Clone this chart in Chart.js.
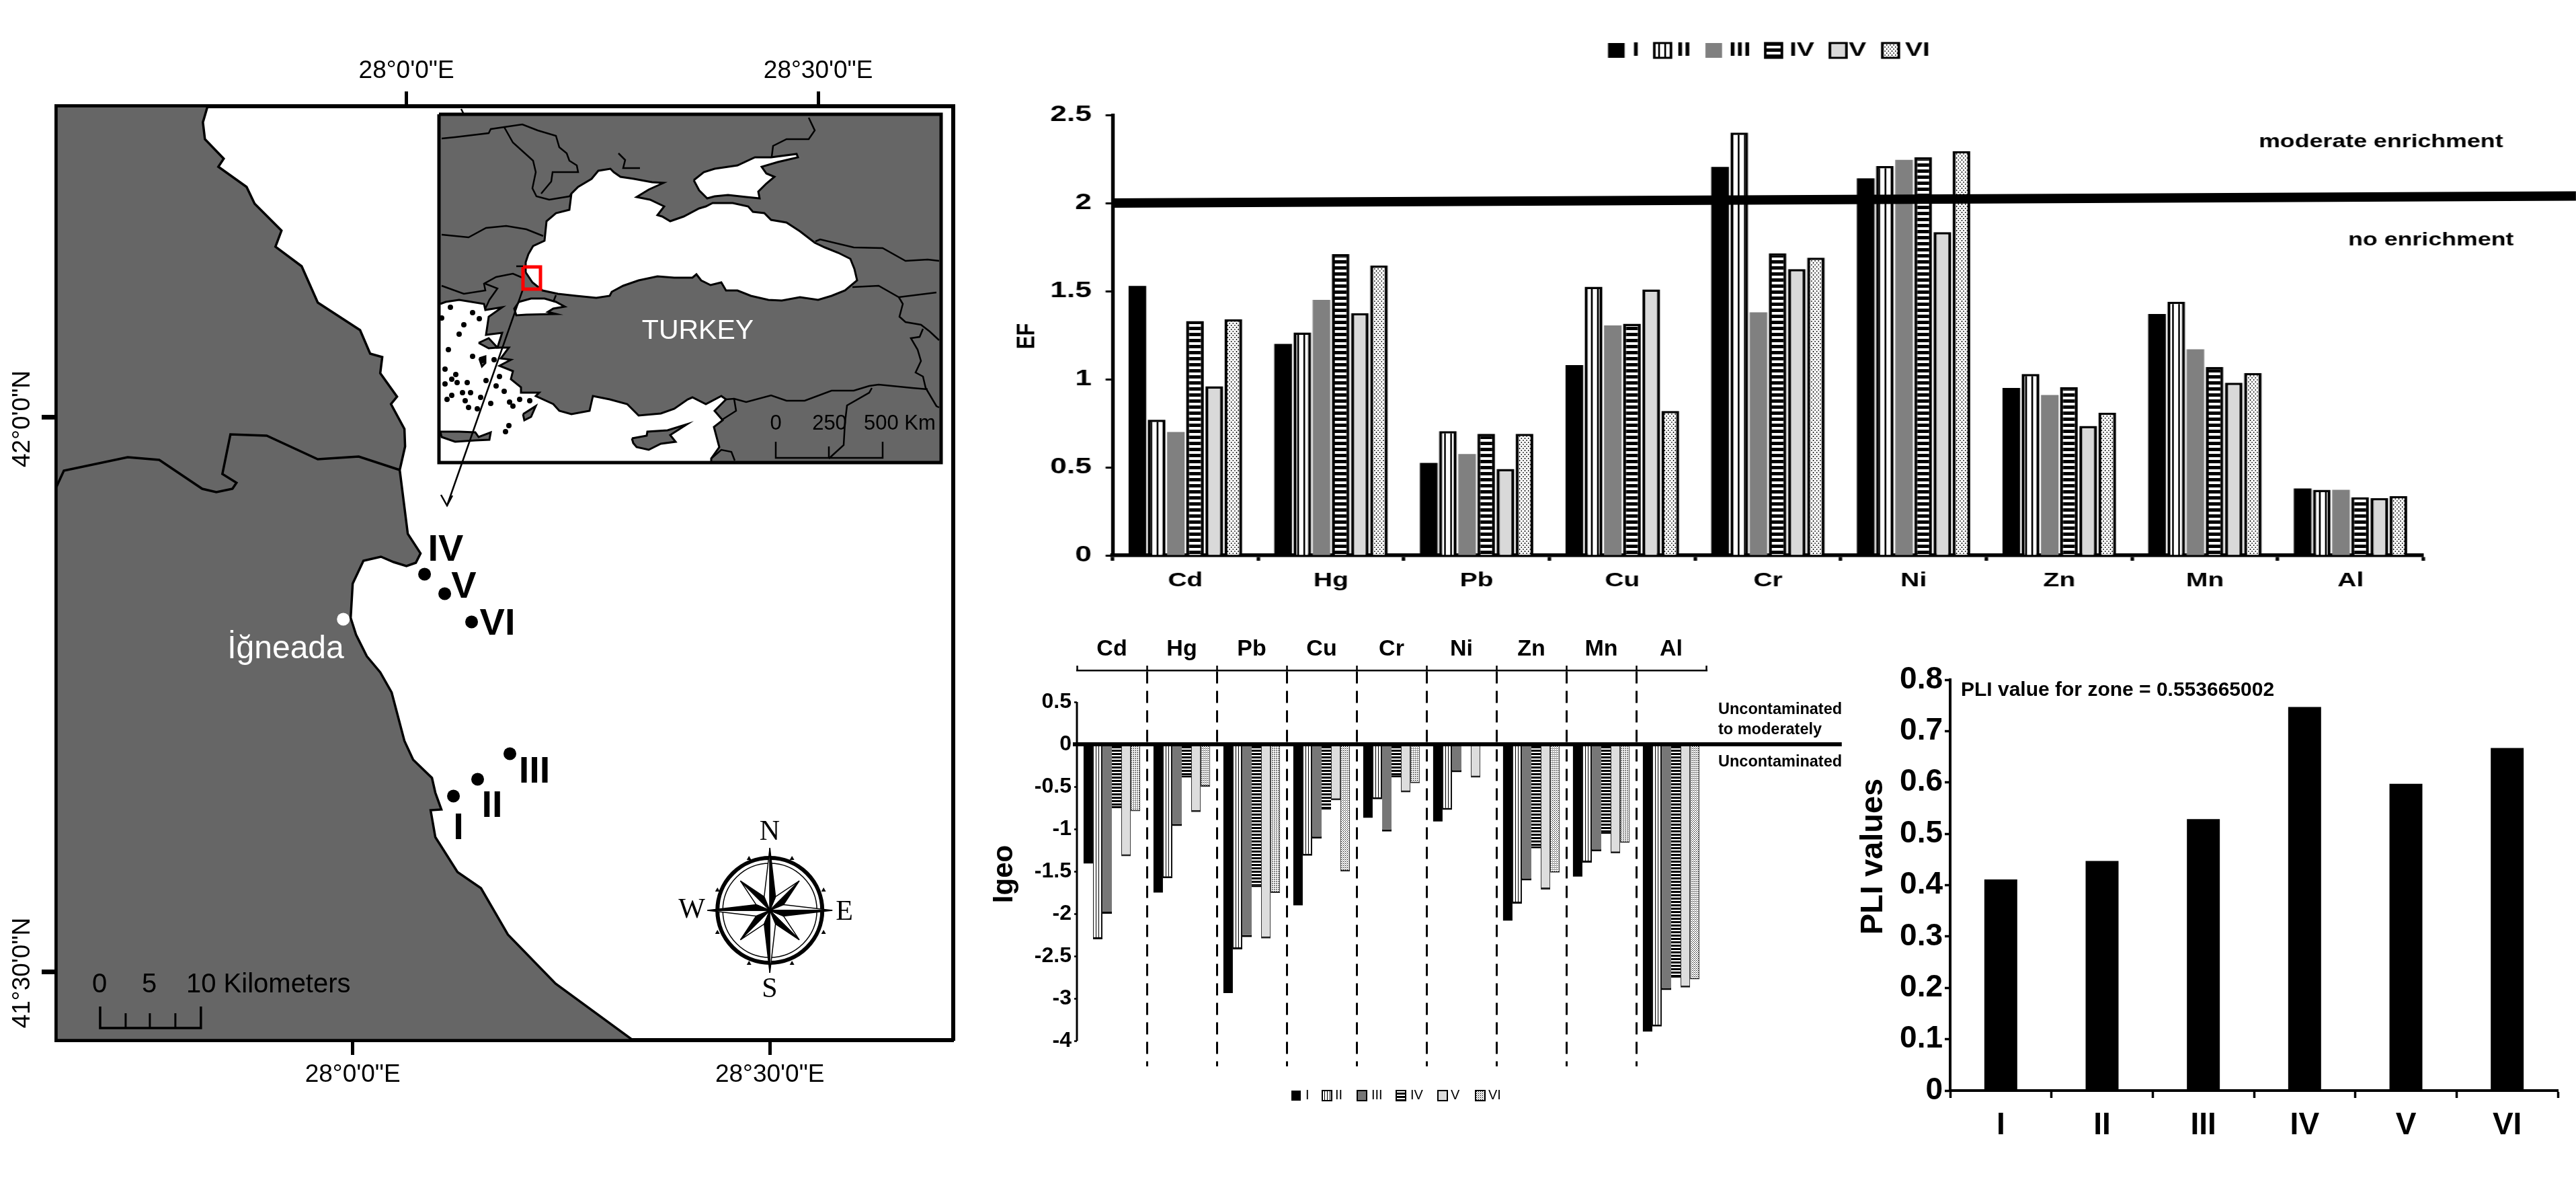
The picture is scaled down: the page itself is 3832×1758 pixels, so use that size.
<!DOCTYPE html>
<html lang="en">
<head>
<meta charset="UTF-8">
<title>Igneada sediment indices</title>
<script src="https://cdn.jsdelivr.net/npm/chart.js@4"></script>
<style>
    body { margin: 0; background: #fff; overflow: hidden; width: 3832px; height: 1758px; position: relative; }
    canvas { position: absolute; top: 0; }
</style>
</head>
<body>
<script>
// ---- chart data ----
const metals = ['Cd', 'Hg', 'Pb', 'Cu', 'Cr', 'Ni', 'Zn', 'Mn', 'Al'];
const stations = ['I', 'II', 'III', 'IV', 'V', 'VI'];

const efI   = [1.53, 1.20, 0.525, 1.08, 2.205, 2.14, 0.95, 1.37, 0.38];
const efII  = [0.77, 1.265, 0.705, 1.525, 2.40, 2.21, 1.03, 1.44, 0.372];
const efIII = [0.70, 1.45, 0.575, 1.305, 1.38, 2.245, 0.91, 1.17, 0.372];
const efIV  = [1.33, 1.71, 0.69, 1.315, 1.715, 2.26, 0.955, 1.07, 0.33];
const efV   = [0.96, 1.375, 0.49, 1.51, 1.625, 1.835, 0.735, 0.98, 0.325];
const efVI  = [1.34, 1.645, 0.69, 0.82, 1.69, 2.295, 0.81, 1.035, 0.337];
const efLimit = [{x: 0, y: 2.0}, {x: 10.05, y: 2.04}];

const igeoI   = [-1.405, -1.75, -2.935, -1.90, -0.866, -0.91, -2.08, -1.56, -3.39];
const igeoII  = [-2.30, -1.58, -2.42, -1.315, -0.648, -0.773, -1.88, -1.397, -3.33];
const igeoIII = [-2.00, -0.964, -2.275, -1.113, -1.03, -0.328, -1.607, -1.263, -2.90];
const igeoIV  = [-0.753, -0.393, -1.685, -0.77, -0.39, 0, -1.227, -1.057, -2.753];
const igeoV   = [-1.32, -0.80, -2.29, -0.66, -0.567, -0.393, -1.713, -1.287, -2.87];
const igeoVI  = [-0.79, -0.50, -1.753, -1.50, -0.457, -0.02, -1.514, -1.162, -2.773];
const igeoTicks = [0.5, 0, -0.5, -1, -1.5, -2, -2.5, -3, -3.5];
const igeoTickLabels = ['0.5', '0', '-0.5', '-1', '-1.5', '-2', '-2.5', '-3', '-4'];
const igeoZero = [{x: -0.058, y: 0}, {x: 10.94, y: 0}];
const igeoAxis = [{x: 0, y: 0.5}, {x: 0, y: -3.5}];

const pliValues = [0.411, 0.447, 0.5285, 0.747, 0.5975, 0.667];

// ---- map outlines, digitised in figure coordinates ----
const P = a => a.map(([x, y]) => ({x, y}));
const landShape = P([[308,158],[301,182],[304,207],[332,236],[324,248],[366,278],[378,303],[418,343],[409,367],[448,396],[472,450],[535,491],[550,526],[568,531],[565,555],[590,590],[581,601],[601,638],[602,664],[594,699],[606,794],[625,823],[618,837],[604,842],[585,836],[566,828],[540,834],[524,868],[521,919],[529,944],[545,976],[565,1000],[582,1030],[601,1102],[614,1130],[642,1157],[647,1179],[656,1204],[640,1205],[647,1245],[680,1297],[715,1321],[755,1390],[826,1463],[941,1547],[83,1547],[83,158],[308,158]]);
const landBorder = P([[594,699],[533,679],[472,683],[396,648],[342,646],[330,705],[351,718],[345,727],[321,732],[300,727],[236,684],[189,680],[94,700],[83,724]]);
const sitePoints = P([[674,1184],[710,1159],[758,1121],[631,854],[661,883],[701,925]]);
const townPoint = P([[510,921]]);
const kmBar = P([[148,1497],[148,1529],[298,1529],[298,1497]]);
const kmTicks = [P([[186,1529],[186,1507]]), P([[222,1529],[222,1507]]), P([[260,1529],[260,1507]])];
const bottomTicks = [524, 1145], bottomLabels = ['28°0\'0"E', '28°30\'0"E'];
const topTicks = [604, 1217], topLabels = ['28°0\'0"E', '28°30\'0"E'];
const leftTicks = [620, 1445];

const compassCentre = [1145, 1354];
const compassMarks = P([[1114,1277],[1178,1277],[1067,1324],[1225,1324],[1067,1387],[1225,1387],[1114,1433],[1178,1433]]);

const insetFrame = P([[653,170],[1400,170],[1400,688],[653,688],[653,170]]);
const blackSea = P([[782,405],[792,420],[807,432],[830,437],[857,440],[887,443],[907,440],[910,434],[927,425],[950,417],[978,411],[1003,413],[1030,413],[1036,408],[1043,417],[1057,424],[1073,420],[1080,432],[1097,432],[1117,440],[1143,446],[1163,447],[1190,442],[1217,446],[1237,440],[1257,432],[1275,417],[1271,400],[1265,385],[1247,376],[1227,368],[1212,361],[1190,344],[1170,331],[1147,327],[1137,317],[1120,315],[1113,307],[1090,302],[1060,302],[1050,307],[1040,310],[1017,322],[997,329],[985,322],[978,320],[988,307],[967,297],[947,293],[965,282],[987,272],[970,271],[943,266],[923,263],[913,256],[908,251],[890,254],[880,266],[860,278],[850,288],[847,312],[827,317],[813,329],[810,358],[793,366],[786,378],[782,390],[782,405]]);
const azovSea = P([[1032,268],[1047,256],[1063,251],[1097,246],[1123,234],[1147,234],[1185,229],[1187,234],[1157,241],[1133,248],[1140,258],[1152,263],[1140,273],[1128,285],[1130,295],[1110,293],[1083,290],[1063,292],[1052,295],[1040,283],[1032,268]]);
const medSea = P([[655,452],[663,449],[683,446],[720,452],[722,461],[747,457],[727,471],[723,498],[747,495],[740,517],[757,517],[745,533],[760,535],[743,544],[763,552],[760,564],[775,576],[775,584],[802,584],[797,589],[823,601],[832,611],[850,616],[877,611],[882,589],[907,594],[933,601],[950,618],[983,615],[1003,608],[1023,594],[1030,591],[1050,601],[1073,589],[1080,594],[1063,611],[1075,625],[1062,635],[1070,665],[1058,682],[1058,688],[653,688],[653,452],[655,452]]);
const marmara = P([[772,449],[790,444],[810,444],[827,449],[840,456],[823,459],[815,464],[827,467],[783,468],[768,469],[765,459],[772,449]]);
const crete = P([[655,642],[683,642],[707,643],[712,650],[730,643],[728,654],[707,655],[677,657],[657,650],[655,642]]);
const cyprus = P([[940,652],[962,648],[963,642],[993,640],[1022,631],[997,647],[1005,657],[983,660],[965,669],[947,665],[942,659],[940,652]]);
const largeIslands = [
    P([[712,510],[727,503],[740,517],[727,518],[712,510]]),
    P([[778,616],[797,604],[790,620],[780,625],[778,616]]),
    P([[713,533],[722,530],[722,540],[717,545],[713,533]])
];
const islands = P([[670,457],[703,465],[713,474],[690,483],[683,497],[667,520],[703,530],[718,536],[735,535],[662,549],[678,557],[672,564],[662,571],[680,569],[695,569],[688,584],[700,584],[672,588],[665,594],[692,596],[697,606],[710,608],[730,600],[738,574],[750,582],[763,604],[758,598],[715,591],[743,560],[723,566],[757,633],[752,642],[773,594],[788,596],[657,473]]);
const insetBorders = [
    P([[657,206],[677,204],[727,198],[730,192],[750,189],[777,185],[800,194],[827,202],[832,219],[843,228],[847,239],[858,246],[860,256],[822,256],[820,270],[805,288]]),
    P([[750,189],[763,212],[793,239],[797,256],[792,280],[798,292],[817,297],[847,292],[850,288]]),
    P([[657,349],[697,353],[723,339],[753,336],[783,341],[808,351]]),
    P([[657,425],[690,437],[722,432],[720,422],[738,412],[763,407],[777,413]]),
    P([[722,422],[740,429],[728,446],[722,459]]),
    P([[768,396],[778,396]]),
    P([[827,439],[823,449]]),
    P([[920,228],[930,238],[927,250],[952,250]]),
    P([[1203,175],[1212,194],[1203,207],[1170,207],[1150,217],[1148,233]]),
    P([[1213,359],[1220,356],[1270,368],[1313,369],[1347,388],[1380,386],[1397,388]]),
    P([[1268,427],[1307,425],[1337,442],[1393,435]]),
    P([[1337,442],[1343,452],[1338,471],[1347,479],[1370,483],[1383,493],[1397,506]]),
    P([[1373,489],[1368,501],[1355,503],[1365,520],[1370,537],[1362,554],[1373,560],[1377,577],[1393,604],[1397,606]]),
    P([[1080,594],[1092,593],[1110,598],[1147,588],[1170,596],[1197,596],[1237,581],[1270,581],[1293,574],[1307,572],[1357,577],[1380,579]]),
    P([[1297,577],[1293,584],[1260,603],[1257,628],[1255,662],[1233,682]]),
    P([[1092,593],[1095,611],[1073,625]]),
    P([[1058,682],[1073,669],[1088,672],[1093,685]])
];
const redBox = P([[778,397],[804,397],[804,430],[778,430],[778,397]]);
const insetArrow = P([[779,427],[665,752]]);
const insetArrowHead = P([[656,736],[665,752],[673,737]]);
const insetStub = P([[686,162],[690,170]]);
const insetKm = P([[1154,657],[1154,681],[1313,681],[1313,657]]);
const insetKmTick = P([[1233,681],[1233,664]]);

// ---- shared helpers ----
const W = 3832, H = 1758;
const SANS = '"Liberation Sans", Arial, sans-serif';
const SERIF = '"Liberation Serif", "Times New Roman", serif';
Chart.defaults.font.family = SANS;
Chart.defaults.color = '#000';
Chart.defaults.animation = false;

function addCanvas(left, width, stretch) {
    const c = document.createElement('canvas');
    c.width = width; c.height = H;
    c.style.left = left + 'px';
    if (stretch) { c.style.transformOrigin = '0 0'; c.style.transform = 'scaleX(' + stretch + ')'; }
    document.body.appendChild(c);
    return c;
}
function pattern(w, h, draw) {
    const c = document.createElement('canvas');
    c.width = w; c.height = h;
    const g = c.getContext('2d');
    g.fillStyle = '#fff'; g.fillRect(0, 0, w, h);
    g.fillStyle = '#000';
    draw(g);
    return g.createPattern(c, 'repeat');
}
const fixSize = n => s => { if (s.isHorizontal()) s.height = n; else s.width = n; };
const plotPadding = (cw, l, t, r, b, yw, th, bh, rw = 0) =>
    ({left: l - yw, top: t - th, right: cw - r - rw, bottom: H - b - bh});

// annotations and hand placed legends, given in figure coordinates
function annotate(items, swatches, toX = x => x) {
    return {
        id: 'annotate',
        afterDraw(chart) {
            const ctx = chart.ctx;
            (swatches || []).forEach(s => {
                const ds = chart.data.datasets[s.ds];
                ctx.fillStyle = ds.backgroundColor;
                ctx.fillRect(toX(s.x), s.y, s.w, s.h);
                if (s.line) { ctx.strokeStyle = '#000'; ctx.lineWidth = s.line; ctx.strokeRect(toX(s.x), s.y, s.w, s.h); }
            });
            items.forEach(i => {
                ctx.save();
                ctx.translate(toX(i.x), i.y);
                if (i.rot) ctx.rotate(i.rot);
                ctx.font = i.font;
                ctx.fillStyle = i.color || '#000';
                ctx.textAlign = i.align || 'center';
                ctx.textBaseline = 'middle';
                ctx.fillText(i.t, 0, 0);
                ctx.restore();
            });
        }
    };
}
const lineSet = (data, color, width, extra) => Object.assign({
    type: 'scatter', data, showLine: true, borderColor: color, borderWidth: width,
    pointRadius: 0, tension: 0, fill: false
}, extra);
const shape = (data, color, lineWidth = 3) => lineSet(data, '#000', lineWidth, {fill: 'shape', backgroundColor: color});
// first listed is painted first
const inOrder = list => list.map((d, i) => Object.assign(d, {order: -i}));
// bars get fewer slots when a dataset sits on a second x axis, so reference lines go on their own layer
function overlay(left, width, stretch, padding, xRange, yRange, sets) {
    return new Chart(addCanvas(left, width, stretch), {
        type: 'scatter',
        data: {datasets: inOrder(sets)},
        options: {
            responsive: false,
            layout: {padding},
            plugins: {legend: {display: false}, tooltip: {enabled: false}},
            scales: {
                x: {type: 'linear', display: false, min: xRange[0], max: xRange[1]},
                y: {type: 'linear', display: false, min: yRange[0], max: yRange[1]}
            }
        }
    });
}

// ---- map ----
function compassSets() {
    const [cx, cy] = compassCentre;
    const at = (deg, r) => ({x: cx + r * Math.sin(deg * Math.PI / 180), y: cy - r * Math.cos(deg * Math.PI / 180)});
    const sets = [];
    [[45, 62], [0, 93]].forEach(([start, r]) => {
        for (let a = start; a < start + 360; a += 90) {
            const c = {x: cx, y: cy};
            sets.push(shape([c, at(a, r), at(a - 22.5, 22), c], '#fff', 1.5));
            sets.push(shape([c, at(a, r), at(a + 22.5, 22), c], '#000', 1.5));
        }
    });
    return sets;
}
const mapLabels = [
    {t: 'IV', x: 663, y: 819, font: 'bold 56px ' + SANS},
    {t: 'V', x: 690, y: 874, font: 'bold 56px ' + SANS},
    {t: 'VI', x: 740, y: 929, font: 'bold 56px ' + SANS},
    {t: 'III', x: 795, y: 1149, font: 'bold 56px ' + SANS},
    {t: 'II', x: 732, y: 1200, font: 'bold 56px ' + SANS},
    {t: 'I', x: 682, y: 1233, font: 'bold 56px ' + SANS},
    {t: 'İğneada', x: 425, y: 966, font: '48px ' + SANS, color: '#fff'},
    {t: '42°0\'0"N', x: 34, y: 623, font: '37px ' + SANS, rot: -Math.PI / 2},
    {t: '41°30\'0"N', x: 34, y: 1447, font: '37px ' + SANS, rot: -Math.PI / 2},
    {t: '0', x: 148, y: 1465, font: '40px ' + SANS},
    {t: '5', x: 222, y: 1465, font: '40px ' + SANS},
    {t: '10 Kilometers', x: 277, y: 1465, font: '40px ' + SANS, align: 'left'},
    {t: 'N', x: 1145, y: 1238, font: '42px ' + SERIF},
    {t: 'S', x: 1145, y: 1472, font: '42px ' + SERIF},
    {t: 'W', x: 1029, y: 1354, font: '42px ' + SERIF},
    {t: 'E', x: 1256, y: 1357, font: '42px ' + SERIF}
];
const coordAxis = (ticks, labels, position) => ({
    type: 'linear', position, min: 83, max: 1418,
    afterBuildTicks: s => { s.ticks = ticks.map(value => ({value})); },
    afterFit: fixSize(100),
    grid: {drawOnChartArea: false, tickLength: 22, tickWidth: 5, tickColor: '#000'},
    border: {display: true, color: '#000', width: 6},
    ticks: {autoSkip: false, maxRotation: 0, padding: 8, font: {size: 37}, callback: v => labels[ticks.indexOf(v)]}
});
new Chart(addCanvas(0, W), {
    type: 'scatter',
    data: {datasets: inOrder([
        shape(landShape, '#666666', 3.5),
        lineSet(landBorder, '#000', 3.5),
        lineSet(kmBar, '#000', 3.5),
        ...kmTicks.map(t => lineSet(t, '#000', 3)),
        {data: sitePoints, pointRadius: 9.5, backgroundColor: '#000', borderWidth: 0},
        {data: townPoint, pointRadius: 9.5, backgroundColor: '#fff', borderWidth: 0},
        {data: [{x: compassCentre[0], y: compassCentre[1]}], pointRadius: 78, backgroundColor: 'transparent', borderColor: '#000', borderWidth: 6},
        {data: [{x: compassCentre[0], y: compassCentre[1]}], pointRadius: 70, backgroundColor: 'transparent', borderColor: '#000', borderWidth: 1.5},
        {data: compassMarks, pointStyle: 'triangle', pointRadius: 4, backgroundColor: '#000', borderWidth: 0},
        ...compassSets()
    ])},
    options: {
        responsive: false,
        layout: {padding: plotPadding(W, 83, 158, 1418, 1547, 30, 100, 100, 1)},
        plugins: {legend: {display: false}, tooltip: {enabled: false}},
        scales: {
            x: coordAxis(bottomTicks, bottomLabels, 'bottom'),
            xTop: coordAxis(topTicks, topLabels, 'top'),
            y: {
                type: 'linear', position: 'left', reverse: true, min: 158, max: 1547,
                afterBuildTicks: s => { s.ticks = leftTicks.map(value => ({value})); },
                afterFit: fixSize(30),
                grid: {drawOnChartArea: false, tickLength: 22, tickWidth: 7, tickColor: '#000'},
                border: {display: true, color: '#000', width: 6},
                ticks: {display: false}
            },
            yRight: {
                type: 'linear', position: 'right', min: 158, max: 1547,
                afterFit: fixSize(1),
                grid: {display: false},
                border: {display: true, color: '#000', width: 6},
                ticks: {display: false}
            }
        }
    },
    plugins: [annotate(mapLabels)]
});

// ---- inset ----
const insetLabels = [
    {t: 'TURKEY', x: 1038, y: 493, font: '41px ' + SANS, color: '#fff'},
    {t: '0', x: 1154, y: 630, font: '31px ' + SANS},
    {t: '250', x: 1234, y: 630, font: '31px ' + SANS},
    {t: '500 Km', x: 1285, y: 630, font: '31px ' + SANS, align: 'left'}
];
new Chart(addCanvas(0, W), {
    type: 'scatter',
    data: {datasets: inOrder([
        lineSet(insetFrame, '#000', 1, {fill: 'shape', backgroundColor: '#666666'}),
        shape(blackSea, '#fff'), shape(azovSea, '#fff'), shape(medSea, '#fff'), shape(marmara, '#fff'),
        shape(crete, '#666666'), shape(cyprus, '#666666'),
        ...largeIslands.map(i => shape(i, '#666666')),
        {data: islands, pointRadius: 4, backgroundColor: '#000', borderWidth: 0},
        ...insetBorders.map(b => lineSet(b, '#000', 2.5)),
        lineSet(insetKm, '#000', 2.5), lineSet(insetKmTick, '#000', 2.5),
        lineSet(insetFrame, '#000', 5, {clip: false}),
        lineSet(insetStub, '#000', 2.5, {clip: false}),
        lineSet(insetArrow, '#000', 2.5, {clip: false}),
        lineSet(insetArrowHead, '#000', 2.5, {clip: false}),
        lineSet(redBox, '#ff0000', 5, {clip: false})
    ])},
    options: {
        responsive: false,
        layout: {padding: plotPadding(W, 653, 170, 1400, 688, 0, 0, 0)},
        plugins: {legend: {display: false}, tooltip: {enabled: false}},
        scales: {
            x: {type: 'linear', display: false, min: 653, max: 1400},
            y: {type: 'linear', display: false, reverse: true, min: 170, max: 688}
        }
    },
    plugins: [annotate(insetLabels)]
});

// ---- EF bars, the panel is stretched sideways in the source ----
const EF_LEFT = 1480, EF_STRETCH = 1.3;
const efX = x => (x - EF_LEFT) / EF_STRETCH;
const efWidth = Math.ceil((W - EF_LEFT) / EF_STRETCH);
const efStyle = [
    {backgroundColor: '#000', borderWidth: 0},
    {backgroundColor: pattern(7, 4, g => g.fillRect(3, 0, 2, 4)), borderColor: '#000', borderWidth: 3.5},
    {backgroundColor: '#808080', borderWidth: 0},
    {backgroundColor: pattern(4, 9, g => g.fillRect(0, 0, 4, 5)), borderColor: '#000', borderWidth: 3.5},
    {backgroundColor: '#d9d9d9', borderColor: '#000', borderWidth: 3.5},
    {backgroundColor: pattern(4, 6, g => { g.fillRect(0, 0, 1, 2); g.fillRect(2, 3, 1, 2); }), borderColor: '#000', borderWidth: 3.5}
];
const efSeries = [efI, efII, efIII, efIV, efV, efVI];
const efLegendBoxes = [2392, 2461, 2537, 2626, 2722, 2800];
const efLegendText = [2428, 2494, 2572, 2662, 2750, 2834];
const efText = [
    {t: 'moderate enrichment', x: 3360, y: 211, font: 'bold 27.5px ' + SANS, align: 'left'},
    {t: 'no enrichment', x: 3493, y: 357, font: 'bold 27.5px ' + SANS, align: 'left'},
    {t: 'EF', x: 1528, y: 500, font: 'bold 30px ' + SANS, rot: -Math.PI / 2},
    ...stations.map((t, i) => ({t, x: efLegendText[i], y: 75, font: 'bold 30px ' + SANS, align: 'left'}))
];
new Chart(addCanvas(EF_LEFT, efWidth, EF_STRETCH), {
    type: 'bar',
    data: {
        labels: metals,
        datasets: stations.map((label, i) => Object.assign({label, data: efSeries[i], categoryPercentage: 0.79, barPercentage: 0.92}, efStyle[i]))
    },
    options: {
        responsive: false,
        layout: {padding: plotPadding(efWidth, efX(1655), 171, efX(3605), 826, efX(1655), 0, 70)},
        plugins: {legend: {display: false}, tooltip: {enabled: false}},
        scales: {
            x: {
                grid: {offset: true, drawOnChartArea: false, tickLength: 8, tickWidth: 4, tickColor: '#000'},
                border: {color: '#000', width: 5.5},
                ticks: {font: {size: 30, weight: 'bold'}, padding: 12, maxRotation: 0},
                afterFit: fixSize(70)
            },
            y: {
                min: 0, max: 2.5,
                grid: {drawOnChartArea: false, tickLength: 8, tickWidth: 3, tickColor: '#000'},
                border: {color: '#000', width: 4},
                ticks: {stepSize: 0.5, font: {size: 34, weight: 'bold'}, padding: 16, callback: v => +v.toFixed(1)},
                afterFit: fixSize(efX(1655))
            }
        }
    },
    plugins: [annotate(efText, efLegendBoxes.map((x, ds) => ({x, ds, y: 64, w: 19, h: 22, line: efStyle[ds].borderWidth ? 3 : 0})), efX)]
});
overlay(EF_LEFT, efWidth, EF_STRETCH, plotPadding(efWidth, efX(1655), 171, efX(3605), 826, 0, 0, 0), [0, 9], [0, 2.5], [
    lineSet(efLimit, '#000', 14, {clip: false})
]);

// ---- Igeo bars ----
const igeoStyle = [
    {backgroundColor: '#000', borderWidth: 0},
    {backgroundColor: pattern(4, 4, g => g.fillRect(2, 0, 1, 4)), borderColor: '#000', borderWidth: {left: 1, right: 1, bottom: 3}},
    {backgroundColor: '#777777', borderColor: '#000', borderWidth: {left: 0.5, right: 0.5, bottom: 3}},
    {backgroundColor: pattern(4, 5, g => g.fillRect(0, 0, 4, 3)), borderColor: '#000', borderWidth: {bottom: 3}},
    {backgroundColor: '#dddddd', borderColor: '#222', borderWidth: {left: 1, right: 1, bottom: 3}},
    {backgroundColor: pattern(3, 3, g => { g.fillRect(0, 0, 1, 1); g.fillRect(2, 2, 1, 1); }), borderColor: '#222', borderWidth: {left: 1, right: 1, bottom: 2}}
];
const igeoSeries = [igeoI, igeoII, igeoIII, igeoIV, igeoV, igeoVI];
const igeoLegendBoxes = [1921, 1967, 2019, 2077, 2139, 2195];
const igeoLegendText = [1942, 1986, 2040, 2098, 2158, 2214];
const igeoText = [
    {t: 'Igeo', x: 1494, y: 1300, font: 'bold 42px ' + SANS, rot: -Math.PI / 2},
    {t: 'Uncontaminated', x: 2556, y: 1056, font: 'bold 23.5px ' + SANS, align: 'left'},
    {t: 'to moderately', x: 2556, y: 1086, font: 'bold 23.5px ' + SANS, align: 'left'},
    {t: 'Uncontaminated', x: 2556, y: 1134, font: 'bold 23.5px ' + SANS, align: 'left'},
    ...stations.map((t, i) => ({t, x: igeoLegendText[i], y: 1629, font: '20px ' + SANS, align: 'left'}))
];
new Chart(addCanvas(0, W), {
    type: 'bar',
    data: {
        labels: metals,
        datasets: stations.map((label, i) => Object.assign({label, data: igeoSeries[i], categoryPercentage: 0.81, barPercentage: 1}, igeoStyle[i]))
    },
    options: {
        responsive: false,
        layout: {padding: plotPadding(W, 1602, 997, 2538, 1586, 130, 60, 0)},
        plugins: {legend: {display: false}, tooltip: {enabled: false}},
        scales: {
            x: {
                position: 'top',
                grid: {
                    offset: true, tickLength: 7, lineWidth: 3, tickWidth: 2.5, tickColor: '#000',
                    color: c => (c.index > 0 && c.index < metals.length) ? '#000' : 'transparent'
                },
                border: {color: '#000', width: 2.5, dash: [18, 11]},
                ticks: {font: {size: 34, weight: 'bold'}, padding: 4, maxRotation: 0},
                afterFit: fixSize(60)
            },
            y: {
                min: -3.8, max: 0.873,
                afterBuildTicks: s => { s.ticks = igeoTicks.map(value => ({value})); },
                grid: {drawOnChartArea: false, tickLength: 4, tickWidth: 2.5, tickColor: '#000'},
                border: {display: false},
                ticks: {autoSkip: false, font: {size: 32, weight: 'bold'}, padding: 4, callback: v => igeoTickLabels[igeoTicks.indexOf(v)]},
                afterFit: fixSize(130)
            }
        }
    },
    plugins: [annotate(igeoText, igeoLegendBoxes.map((x, ds) => ({x, ds, y: 1622, w: 14, h: 15, line: ds === 0 ? 0 : 2})))]
});
overlay(0, W, 0, plotPadding(W, 1602, 997, 2538, 1586, 0, 0, 0), [0, 9], [-3.8, 0.873], [
    lineSet(igeoAxis, '#000', 3, {clip: false}),
    lineSet(igeoZero, '#000', 6, {clip: false})
]);

// ---- PLI bars ----
const pliText = [
    {t: 'PLI values', x: 2787, y: 1274, font: 'bold 47px ' + SANS, rot: -Math.PI / 2},
    {t: 'PLI value for zone = 0.553665002', x: 2917, y: 1027, font: 'bold 30px ' + SANS, align: 'left'}
];
new Chart(addCanvas(0, W), {
    type: 'bar',
    data: {
        labels: stations,
        datasets: [{label: 'PLI', data: pliValues, backgroundColor: '#000', categoryPercentage: 1, barPercentage: 0.325}]
    },
    options: {
        responsive: false,
        layout: {padding: plotPadding(W, 2901, 1011, 3805, 1622, 142, 0, 80)},
        plugins: {legend: {display: false}, tooltip: {enabled: false}},
        scales: {
            x: {
                grid: {offset: true, drawOnChartArea: false, tickLength: 11, tickWidth: 3.5, tickColor: '#000'},
                border: {color: '#000', width: 4},
                ticks: {font: {size: 46, weight: 'bold'}, padding: 14, maxRotation: 0},
                afterFit: fixSize(80)
            },
            y: {
                min: 0, max: 0.8,
                grid: {drawOnChartArea: false, tickLength: 8, tickWidth: 3.5, tickColor: '#000'},
                border: {color: '#000', width: 4},
                ticks: {stepSize: 0.1, font: {size: 46, weight: 'bold'}, padding: 3, callback: v => +v.toFixed(1)},
                afterFit: fixSize(142)
            }
        }
    },
    plugins: [annotate(pliText)]
});
</script>
</body>
</html>
